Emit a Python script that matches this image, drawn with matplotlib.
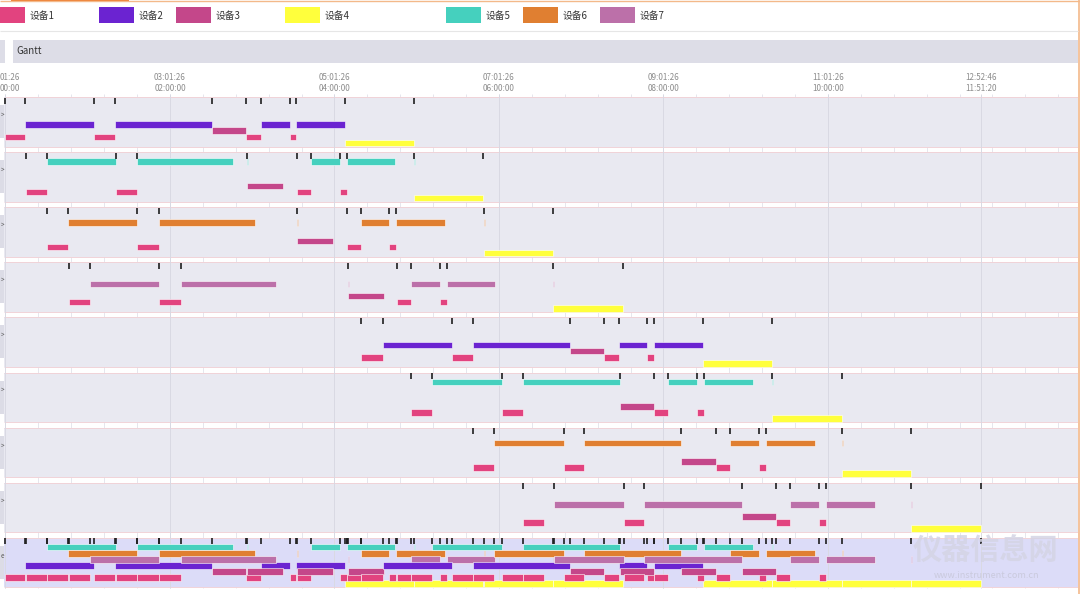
import matplotlib

matplotlib.use("Agg")
import matplotlib.pyplot as plt
from matplotlib.patches import Rectangle

plt.rcParams["font.family"] = ["Noto Sans CJK SC", "DejaVu Sans"]

# devices (legend order) and their colours
DEVICE_NAMES = ["设备1", "设备2", "设备3", "设备4", "设备5", "设备6", "设备7"]
DEVICE_COLORS = {
    1: "#e2437f",
    2: "#6b23d1",
    3: "#c4478a",
    4: "#ffff3c",
    5: "#45d0be",
    6: "#e07f31",
    7: "#bc70a9",
}
# top-to-bottom lane order inside every row
LANE_ORDER = [5, 6, 7, 2, 3, 1, 4]

# schedule per job: (device, start minute, end minute)
JOB1 = [(1, 0.0, 14.2), (2, 14.2, 64.9), (1, 64.9, 79.9), (2, 79.9, 150.6),
        (3, 150.6, 175.4), (1, 175.4, 186.4), (2, 186.4, 207.2), (1, 207.2, 212.0),
        (2, 212.0, 247.7), (4, 247.7, 298.0)]
JOB2 = [(1, 14.8, 30.1), (5, 30.1, 80.9), (1, 80.9, 95.9), (5, 95.9, 166.3),
        (5, 176.2, 176.2), (3, 176.2, 202.4), (1, 212.7, 222.6), (5, 222.6, 244.0),
        (1, 244.0, 249.0), (5, 249.0, 283.8), (5, 298.0, 298.0), (4, 298.0, 348.7)]
JOB3 = [(1, 30.4, 45.4), (6, 45.4, 96.2), (1, 96.2, 111.8), (6, 111.8, 182.2),
        (6, 212.7, 212.7), (3, 212.7, 239.1), (1, 249.1, 259.3), (6, 259.3, 280.1),
        (1, 280.1, 285.2), (6, 285.2, 320.6), (6, 348.9, 348.9), (4, 348.9, 399.4)]
JOB4 = [(1, 46.2, 61.6), (7, 61.6, 112.1), (1, 112.1, 127.9), (7, 127.9, 197.5),
        (7, 249.5, 249.5), (3, 249.5, 275.8), (1, 285.6, 295.8), (7, 295.8, 317.0),
        (1, 317.0, 321.8), (7, 321.8, 357.2), (7, 399.4, 399.4), (4, 399.4, 450.5)]
JOB5 = [(1, 259.5, 275.1), (2, 275.1, 325.7), (1, 325.7, 341.0), (2, 341.0, 411.8),
        (3, 411.8, 436.9), (1, 436.9, 447.2), (2, 447.2, 468.1), (1, 468.1, 473.0),
        (2, 473.0, 508.5), (4, 508.5, 558.9)]
JOB6 = [(1, 295.8, 311.3), (5, 311.3, 362.4), (1, 362.4, 377.4), (5, 377.4, 448.5),
        (3, 448.5, 473.2), (1, 473.2, 483.6), (5, 483.6, 504.3), (1, 504.3, 509.2),
        (5, 509.2, 545.0), (5, 558.9, 558.9), (4, 558.9, 609.9)]
JOB7 = [(1, 341.0, 356.6), (6, 356.6, 407.3), (1, 407.3, 422.3), (6, 422.3, 493.1),
        (3, 493.1, 518.4), (1, 518.4, 528.8), (6, 528.8, 549.7), (1, 549.7, 554.6),
        (6, 554.6, 590.2), (6, 609.9, 609.9), (4, 609.9, 660.4)]
JOB8 = [(1, 377.4, 392.9), (7, 400.0, 450.9), (1, 450.9, 466.0), (7, 466.0, 537.0),
        (3, 537.0, 562.2), (1, 562.2, 572.6), (7, 572.6, 593.4), (1, 593.4, 598.4),
        (7, 598.4, 634.1), (7, 660.4, 660.4), (4, 660.4, 711.3)]
JOBS = [JOB1, JOB2, JOB3, JOB4, JOB5, JOB6, JOB7, JOB8]

# time axis: wall clock at t=0 and labelled ticks (seconds of elapsed time)
START_CLOCK_SEC = 1 * 3600 + 1 * 60 + 26
TICK_SECONDS = [0, 7200, 14400, 21600, 28800, 36000, 42680]
MINOR_STEP_MIN = 24

# layout (pixels of a 1080x594 canvas)
W, H = 1080, 594
PX0 = 5.5  # pixel where elapsed time is 0
MIN_PER_PX = 0.7295
GANTT_TOP, GANTT_BOTTOM, GANTT_RIGHT = 97, 588, 1078
ROW_PITCH = 55.1
BAND_H = 49.5
LANE_Y0, LANE_STEP, BAR_H = 9.3, 6.1, 6.6

BAND_COLOR = "#e9e9f1"
SUMMARY_COLOR = "#dcdcf8"
EDGE_PINK = "#f1d3d8"


def px_to_min(px):
    return (px - PX0) * MIN_PER_PX


def fmt_hms(sec):
    sec = int(round(sec)) % 86400
    return f"{sec // 3600:02d}:{sec % 3600 // 60:02d}:{sec % 60:02d}"


def draw_row(ax, top, ops, band_color, left_label=">"):
    x_left = px_to_min(4.5)
    x_right = px_to_min(GANTT_RIGHT)
    ax.add_patch(Rectangle((x_left, top), x_right - x_left, BAND_H,
                           facecolor=band_color, edgecolor="none", zorder=1))
    ax.hlines([top, top + BAND_H], x_left, x_right, color=EDGE_PINK, lw=0.7, zorder=1.5)

    # row header on the left, mostly scrolled out of view
    ax.add_patch(Rectangle((px_to_min(0), top + 8), px_to_min(4.5) - px_to_min(0), 33,
                           facecolor="#dcdce6", edgecolor="none", zorder=1))
    ax.text(px_to_min(0.3), top + 18, left_label, fontsize=4.5, color="#555555",
            ha="left", va="center", zorder=2)

    for dev, s, e in ops:
        k = LANE_ORDER.index(dev)
        yc = top + LANE_Y0 + LANE_STEP * k
        width = e - s
        alpha = 1.0
        if width <= 0:
            width, alpha = 1.0, 0.75
        ax.add_patch(Rectangle((s, yc - BAR_H / 2), width, BAR_H,
                               facecolor=DEVICE_COLORS[dev], edgecolor=(1, 1, 1, 0.55),
                               lw=0.4, alpha=alpha, zorder=3))

    starts = sorted({s for _, s, _ in ops})
    ticks = starts + [max(e for _, _, e in ops)]
    ax.vlines(ticks, top + 0.5, top + 6.5, color="#1e1e1e", lw=1.2, zorder=4)


def draw_decoration(fig):
    deco = fig.add_axes([0, 0, 1, 1])
    deco.set_xlim(0, W)
    deco.set_ylim(H, 0)
    deco.axis("off")

    # orange frame of the page
    deco.hlines(1, 0, W, color="#f3b98a", lw=1.0)
    deco.add_patch(Rectangle((11, 0), 118, 2.2, facecolor="#ee7d2e", edgecolor="none"))
    deco.vlines(GANTT_RIGHT + 0.5, 0, H, color="#f3b98a", lw=1.2)

    # legend
    rect_x = [-10, 99, 176, 285, 446, 523, 600]
    for i, name in enumerate(DEVICE_NAMES):
        deco.add_patch(Rectangle((rect_x[i], 7), 35, 16, facecolor=DEVICE_COLORS[i + 1],
                                 edgecolor="none"))
        deco.text(rect_x[i] + 40, 15.5, name, fontsize=7, color="#333333",
                  ha="left", va="center")
    deco.hlines(31, 0, GANTT_RIGHT, color="#e6e6e6", lw=0.8)

    # "Gantt" header bar
    deco.add_patch(Rectangle((0, 40), 4.7, 23.3, facecolor="#dddde7", edgecolor="none"))
    deco.add_patch(Rectangle((12.7, 40), GANTT_RIGHT - 12.7, 23.3, facecolor="#dddde7",
                             edgecolor="none"))
    deco.text(16, 51.5, "Gantt", fontsize=7, color="#333333", ha="left", va="center")


def draw_gantt(fig):
    ax = fig.add_axes([0, (H - GANTT_BOTTOM) / H, GANTT_RIGHT / W,
                       (GANTT_BOTTOM - GANTT_TOP) / H])
    ax.set_xlim(px_to_min(0), px_to_min(GANTT_RIGHT))
    ax.set_ylim(GANTT_BOTTOM - GANTT_TOP, 0)
    ax.axis("off")
    ax.patch.set_alpha(0)

    span = GANTT_BOTTOM - GANTT_TOP
    # minor grid (only visible in the gaps between rows)
    minor = [m for m in range(0, int(px_to_min(GANTT_RIGHT)) + 1, MINOR_STEP_MIN)]
    ax.vlines(minor, -3, span, color="#e2e2ea", lw=0.6, zorder=0.5, clip_on=False)
    # major grid + two-line time labels
    major = [t / 60 for t in TICK_SECONDS]
    ax.vlines(major, -3, span, color="#d9d9e3", lw=0.7, zorder=2, clip_on=False)
    for t in TICK_SECONDS:
        top_lbl, bot_lbl = fmt_hms(START_CLOCK_SEC + t), fmt_hms(t)
        if t == 0:
            # the first label sits on the left edge: only its tail is in view
            ax.text(px_to_min(0), -20, top_lbl[-5:], fontsize=5.8, color="#8c8c8c",
                    ha="left", va="center", clip_on=False)
            ax.text(px_to_min(0), -9, bot_lbl[-5:], fontsize=5.8, color="#8c8c8c",
                    ha="left", va="center", clip_on=False)
            continue
        ax.text(t / 60, -20, top_lbl, fontsize=5.8, color="#8c8c8c",
                ha="center", va="center", clip_on=False)
        ax.text(t / 60, -9, bot_lbl, fontsize=5.8, color="#8c8c8c",
                ha="center", va="center", clip_on=False)

    for i, ops in enumerate(JOBS):
        draw_row(ax, i * ROW_PITCH, ops, BAND_COLOR)

    all_ops = [op for ops in JOBS for op in ops]
    draw_row(ax, len(JOBS) * ROW_PITCH, all_ops, SUMMARY_COLOR, left_label="e")


fig = plt.figure(figsize=(W / 100, H / 100), dpi=100)
fig.patch.set_facecolor("white")
draw_decoration(fig)
draw_gantt(fig)

# site watermark
fig.text(985 / W, 1 - 551 / H, "仪器信息网", fontsize=21, fontweight="bold",
         color="#d4d4e4", alpha=0.85, ha="center", va="center", zorder=10)
fig.text(987 / W, 1 - 576 / H, "www.instrument.com.cn", fontsize=6.5, style="italic",
         color="#c8c8da", alpha=0.9, ha="center", va="center", zorder=10)

fig.savefig("out.png", dpi=100)
